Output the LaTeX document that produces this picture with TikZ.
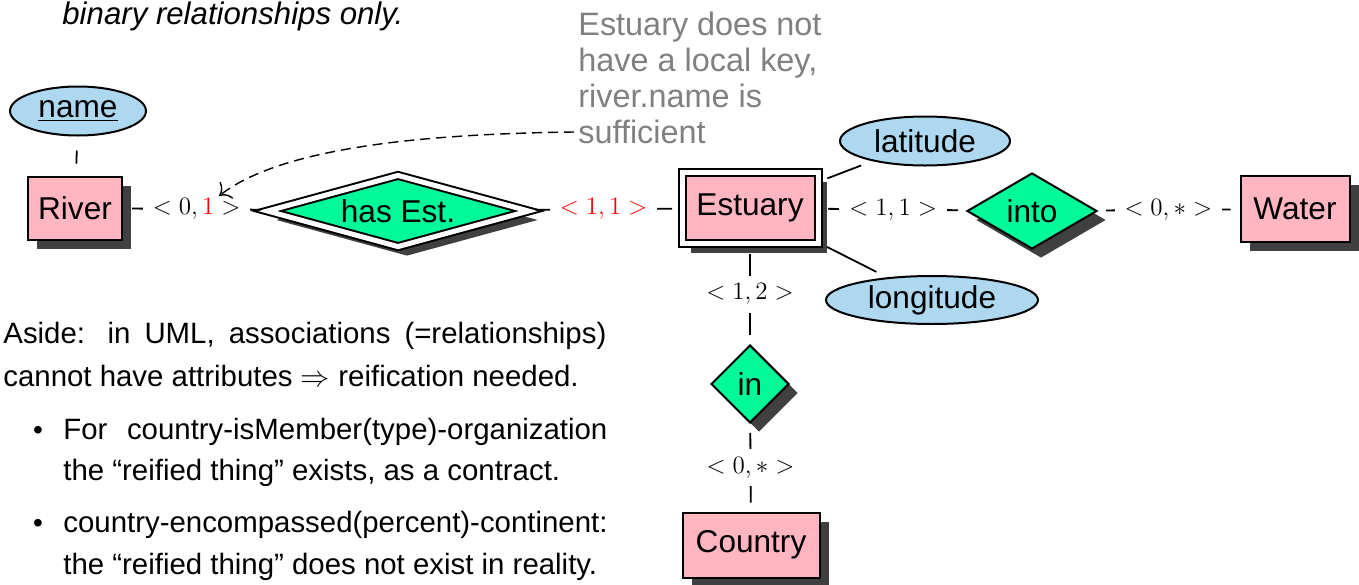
\RequirePackage{fix-cm}
\documentclass[tikz,border=0pt]{standalone}
\usepackage[no-math]{fontspec}
\setmainfont{Liberation Sans}
\usetikzlibrary{shapes.geometric,shadows,calc,arrows.meta}
\definecolor{entpink}{RGB}{255,182,193}
\definecolor{attblue}{RGB}{173,216,240}
\definecolor{relgreen}{RGB}{0,250,154}
\definecolor{shadowgray}{RGB}{64,64,64}
\definecolor{notegray}{RGB}{128,128,128}
\newcommand{\dfont}{\fontsize{15.8}{19}\selectfont}
\begin{document}
\begin{tikzpicture}[x=0.5pt,y=-0.5pt,
  shad/.style={drop shadow={shadow xshift=4.5pt,shadow yshift=-4.5pt,fill=shadowgray,opacity=1}},
  entity/.style={rectangle,draw,line width=1pt,fill=entpink,shad,inner sep=0pt,font=\dfont},
  weakentity/.style={entity,double,double distance=2.5pt},
  attr/.style={ellipse,draw,line width=1pt,fill=attblue,inner sep=0pt,font=\dfont},
  rel/.style={diamond,draw,line width=1pt,fill=relgreen,shad,inner sep=0pt,font=\dfont},
  weakrel/.style={rel,double,double distance=2.5pt},
  conn/.style={line width=0.9pt,shorten <=4.5pt,shorten >=4.5pt},
  attconn/.style={line width=0.9pt,shorten <=4.5pt,shorten >=6pt},
  card/.style={fill=white,inner xsep=5pt,inner ysep=4pt,font=\fontsize{12.5}{15}\selectfont},
  txt/.style={anchor=base west,inner sep=0pt,font=\fontsize{14.7}{17}\selectfont},
  bul/.style={anchor=base,inner sep=0pt,font=\fontsize{14}{14}\selectfont},
  notearrow/.style={line width=0.7pt,dash pattern=on 5pt off 3pt,-{To[scale=1.6]}},
]
\useasboundingbox (0,0) rectangle (1359,584);

% top text
\node[txt,font=\fontsize{15.6}{18}\selectfont\itshape] (top) at (62,24) {binary relationships only.};

% entities
\node[entity,minimum width=47pt,minimum height=31.5pt] (river) at (75,208) {River};
\node[weakentity,minimum width=68pt,minimum height=35.5pt] (estuary) at (750,208) {Estuary};
\node[entity,minimum width=54.5pt,minimum height=33pt] (water) at (1295,209) {Water};
\node[entity,minimum width=68.5pt,minimum height=32.5pt] (country) at (751,545) {Country};

% attributes
\node[attr,minimum width=68pt,minimum height=24.5pt] (name) at (78,111) {\underline{name}};
\node[attr,minimum width=85pt,minimum height=24.5pt] (latitude) at (925,141) {latitude};
\node[attr,minimum width=106pt,minimum height=24pt] (longitude) at (932,300) {longitude};

% relationships
\node[weakrel,aspect=3.64,minimum width=131pt,minimum height=36pt] (hasest) at (398,211) {has Est.};
\node[rel,aspect=1.71,minimum width=65pt,minimum height=38pt] (into) at (1032,211) {into};
\node[rel,aspect=1,minimum width=39pt,minimum height=39pt] (in) at (750,384) {in};

% attribute connectors
\draw[line width=0.9pt,shorten <=7pt,shorten >=6pt] (name) -- (river);
\draw[attconn] (estuary) -- (latitude);
\draw[attconn] (estuary) -- (longitude);

% relationship connectors
\draw[conn] (river) -- node[card] (c1) {$<0,\textcolor{red}{1}>$} (hasest);
\draw[conn] (hasest) -- node[card,text=red] (c2) {$<1,1>$} (estuary);
\draw[conn] (estuary) -- node[card] (c3) {$<1,1>$} (into);
\draw[conn] (into) -- node[card] (c4) {$<0,*>$} (water);
\draw[conn] (estuary) -- node[card] (c5) {$<1,2>$} (in);
\draw[conn] (in) -- node[card] (c6) {$<0,*>$} (country);

% note
\node[anchor=north west,inner sep=0pt,align=left,text=notegray,font=\fontsize{16.2}{18}\selectfont] (note) at (578,12) {Estuary does not\\have a local key,\\river.name is\\sufficient};
\coordinate (ns) at (574,132);
\coordinate (tip) at (219,196);
\draw[notearrow] (ns) .. controls (420,134) and (280,148) .. (tip);

% aside text
\node[txt] (a1) at (3,343) {\makebox[301.5pt][s]{Aside: in UML, associations (=relationships)}};
\node[txt] (a2) at (3,386) {cannot have attributes $\Rightarrow$ reification needed.};
\node[bul] (b1) at (38,439) {\textbullet};
\node[txt] (a3) at (63,439) {\makebox[272pt][s]{For country-isMember(type)-organization}};
\node[txt] (a4) at (63,480) {the “reified thing” exists, as a contract.};
\node[bul] (b2) at (38,532) {\textbullet};
\node[txt] (a5) at (63,532) {country-encompassed(percent)-continent:};
\node[txt] (a6) at (63,574) {the “reified thing” does not exist in reality.};
\end{tikzpicture}
\end{document}
